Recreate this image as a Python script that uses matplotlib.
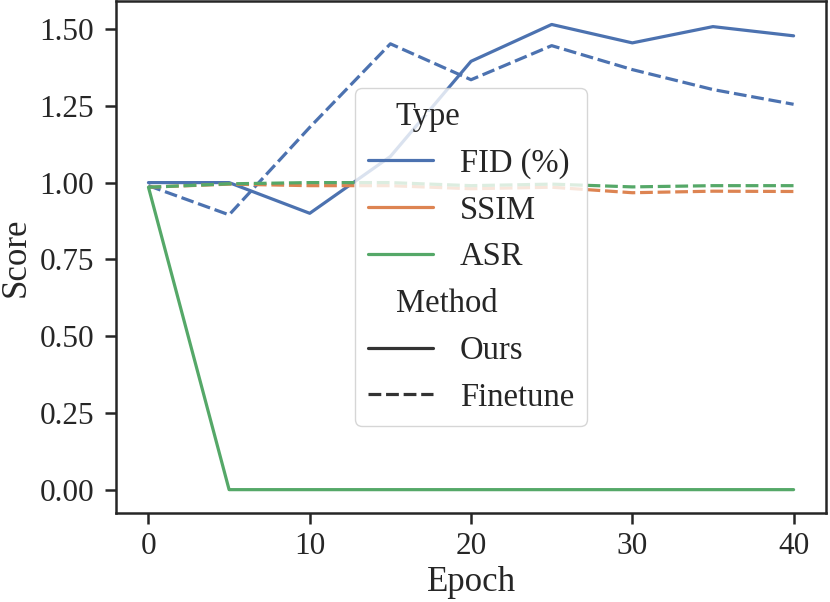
import matplotlib
matplotlib.use("Agg")
import matplotlib.pyplot as plt
import seaborn as sns
import pandas as pd

# values
epochs = [0, 5, 10, 15, 20, 25, 30, 35, 40]
fid_ours = [1.00, 1.00, 0.90, 1.085, 1.395, 1.515, 1.455, 1.508, 1.478]
fid_finetune = [0.99, 0.895, 1.18, 1.452, 1.335, 1.446, 1.368, 1.303, 1.255]
ssim_finetune = [0.985, 0.995, 0.99, 0.99, 0.98, 0.985, 0.967, 0.972, 0.971]
asr_ours = [0.985, 0.0, 0.0, 0.0, 0.0, 0.0, 0.0, 0.0, 0.0]
asr_finetune = [0.985, 0.996, 1.0, 1.0, 0.99, 0.995, 0.986, 0.99, 0.99]

rows = []
for name, method, vals in [("FID (%)", "Ours", fid_ours),
                           ("FID (%)", "Finetune", fid_finetune),
                           ("SSIM", "Finetune", ssim_finetune),
                           ("ASR", "Ours", asr_ours),
                           ("ASR", "Finetune", asr_finetune)]:
    for e, v in zip(epochs, vals):
        rows.append({"Epoch": e, "Score": v, "Type": name, "Method": method})
df = pd.DataFrame(rows)

sns.set_theme(style="ticks")
plt.rcParams['font.family'] = ['Liberation Serif', 'DejaVu Serif']

fig = plt.figure(figsize=(8.3, 6.02), dpi=100)
ax = fig.add_axes([0.14, 0.148, 0.855, 0.85])
sns.lineplot(data=df, x="Epoch", y="Score", hue="Type", style="Method",
             hue_order=["FID (%)", "SSIM", "ASR"],
             style_order=["Ours", "Finetune"], linewidth=2.3, ax=ax)

ax.set_xticks([0, 10, 20, 30, 40])
ax.set_yticks([0.0, 0.25, 0.5, 0.75, 1.0, 1.25, 1.5])
ax.set_yticklabels(["0.00", "0.25", "0.50", "0.75", "1.00", "1.25", "1.50"])
ax.tick_params(labelsize=22.5, length=8, width=1.8)
ax.tick_params(axis='x', pad=6)
ax.tick_params(axis='y', pad=8)
for s in ax.spines.values():
    s.set_linewidth(1.8)
    s.set_color('#262626')
ax.set_xlabel("Epoch", fontsize=25, labelpad=3)
ax.set_ylabel("Score", fontsize=25, labelpad=5)

leg = ax.legend(loc="center", fontsize=23.5, framealpha=0.8)
for line in leg.get_lines():
    line.set_linewidth(2.3)
# section titles sit further left than the entries
for t in leg.get_texts():
    if t.get_text() in ("Type", "Method"):
        t.set_x(-64)

fig.savefig("out.png", dpi=100)
